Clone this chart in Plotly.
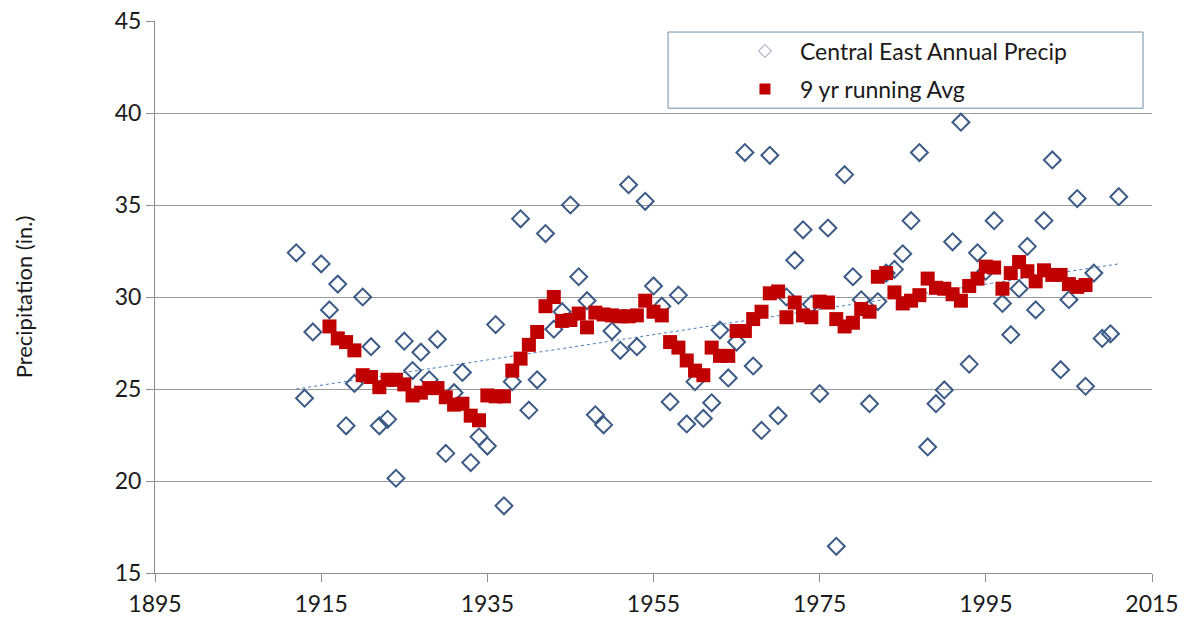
import plotly.graph_objects as go

# annual precipitation, Central East (inches), 1912-2011
years = list(range(1912, 2012))
precip = [
    32.4, 24.5, 28.1, 31.8, 29.3, 30.7, 23.0, 25.3, 30.0, 27.3,
    23.0, 23.35, 20.15, 27.6, 26.0, 27.0, 25.5, 27.7, 21.5, 24.8,
    25.9, 21.0, 22.4, 21.9, 28.5, 18.65, 25.4, 34.25, 23.85, 25.5,
    33.45, 28.25, 29.2, 35.0, 31.1, 29.8, 23.6, 23.05, 28.15, 27.1,
    36.1, 27.3, 35.2, 30.6, 29.5, 24.3, 30.1, 23.1, 25.4, 23.4,
    24.25, 28.2, 25.6, 27.55, 37.85, 26.25, 22.75, 37.7, 23.55, 30.0,
    32.0, 33.65, 29.6, 24.75, 33.75, 16.45, 36.65, 31.1, 29.85, 24.2,
    29.75, 31.3, 31.5, 32.35, 34.15, 37.85, 21.85, 24.2, 24.95, 33.0,
    39.5, 26.35, 32.4, 31.4, 34.15, 29.65, 27.95, 30.45, 32.75, 29.3,
    34.15, 37.45, 26.05, 29.85, 35.35, 25.15, 31.3, 27.75, 28.0, 35.45,
]

# 9 yr centred running average, 1916-2007
avg_years = list(range(1916, 2008))
avg_precip = [
    28.4, 27.75, 27.55, 27.1, 25.75, 25.65, 25.1, 25.5, 25.5, 25.25,
    24.65, 24.8, 25.05, 25.05, 24.55, 24.15, 24.2, 23.55, 23.3, 24.65,
    24.6, 24.6, 26.0, 26.65, 27.4, 28.1, 29.5, 30.0, 28.7, 28.75,
    29.1, 28.35, 29.15, 29.05, 29.0, 28.95, 28.95, 29.0, 29.8, 29.2,
    29.0, 27.55, 27.25, 26.55, 26.0, 25.75, 27.25, 26.8, 26.8, 28.15,
    28.15, 28.8, 29.2, 30.2, 30.3, 28.9, 29.7, 29.0, 28.9, 29.75,
    29.7, 28.8, 28.4, 28.6, 29.35, 29.2, 31.1, 31.3, 30.25, 29.65,
    29.8, 30.1, 31.0, 30.5, 30.45, 30.15, 29.8, 30.6, 31.0, 31.65,
    31.6, 30.45, 31.3, 31.9, 31.4, 30.85, 31.45, 31.2, 31.2, 30.7,
    30.55, 30.65,
]

# linear trendline (as drawn in the source chart)
trend_years = [1912, 2011]
trend_precip = [25.0, 31.8]

x_ticks = [1895, 1915, 1935, 1955, 1975, 1995, 2015]
y_ticks = [15, 20, 25, 30, 35, 40, 45]

blue = "#3b5b86"
red = "#c00000"
font = "Lato"

fig = go.Figure()

fig.add_trace(go.Scatter(
    x=trend_years, y=trend_precip, mode="lines",
    line=dict(color="#4a7ebb", width=1, dash="dot"),
    showlegend=False, hoverinfo="skip",
))
fig.add_trace(go.Scatter(
    x=years, y=precip, mode="markers",
    marker=dict(symbol="diamond-open", size=13, color=blue, line=dict(width=2, color=blue)),
    showlegend=False,
))
fig.add_trace(go.Scatter(
    x=avg_years, y=avg_precip, mode="markers",
    marker=dict(symbol="square", size=14, color=red),
    showlegend=False,
))

# legend-only entries with smaller symbols
fig.add_trace(go.Scatter(
    x=[None], y=[None], mode="markers", name="Central East Annual Precip",
    legendgroup="a",
    marker=dict(symbol="diamond-open", size=10, color="#8090a8", line=dict(width=1, color="#8090a8")),
))
fig.add_trace(go.Scatter(
    x=[None], y=[None], mode="markers", name="9 yr running Avg",
    legendgroup="b",
    marker=dict(symbol="square", size=11, color=red),
))

# legend frame
fig.add_shape(
    type="rect", xref="paper", yref="paper",
    x0=0.5146, x1=0.991, y0=0.842, y1=0.980,
    line=dict(color="#6f8ea8", width=1), fillcolor="white", layer="below",
)

fig.update_layout(
    width=1187, height=623,
    margin=dict(l=155, r=35, t=21, b=50),
    paper_bgcolor="white", plot_bgcolor="white",
    font=dict(family=font, size=23, color="#1a1a1a"),
    legend=dict(
        x=0.5767, y=0.9845, xanchor="left", yanchor="top",
        bgcolor="rgba(0,0,0,0)", borderwidth=0,
        font=dict(size=23), traceorder="grouped", tracegroupgap=5, itemwidth=60,
    ),
    xaxis=dict(
        range=[1895, 2015], tickvals=x_ticks, showgrid=False,
        showline=True, linecolor="#8c8c8c", linewidth=1,
        ticks="outside", ticklen=8, tickcolor="#8c8c8c",
        zeroline=False, ticklabelstandoff=2, automargin=False,
    ),
    yaxis=dict(
        range=[15, 45], tickvals=y_ticks, showgrid=True,
        gridcolor="#9a9a9a", gridwidth=1,
        showline=True, linecolor="#8c8c8c", linewidth=1,
        ticks="outside", ticklen=8, tickcolor="#8c8c8c",
        zeroline=False, automargin=False,
        title=dict(text="Precipitation (in.)", font=dict(size=22), standoff=76),
    ),
)

fig.write_html(
    "out.html",
    config={"displayModeBar": False},
    post_script="document.body.style.margin='0';document.body.style.overflow='hidden';",
)
